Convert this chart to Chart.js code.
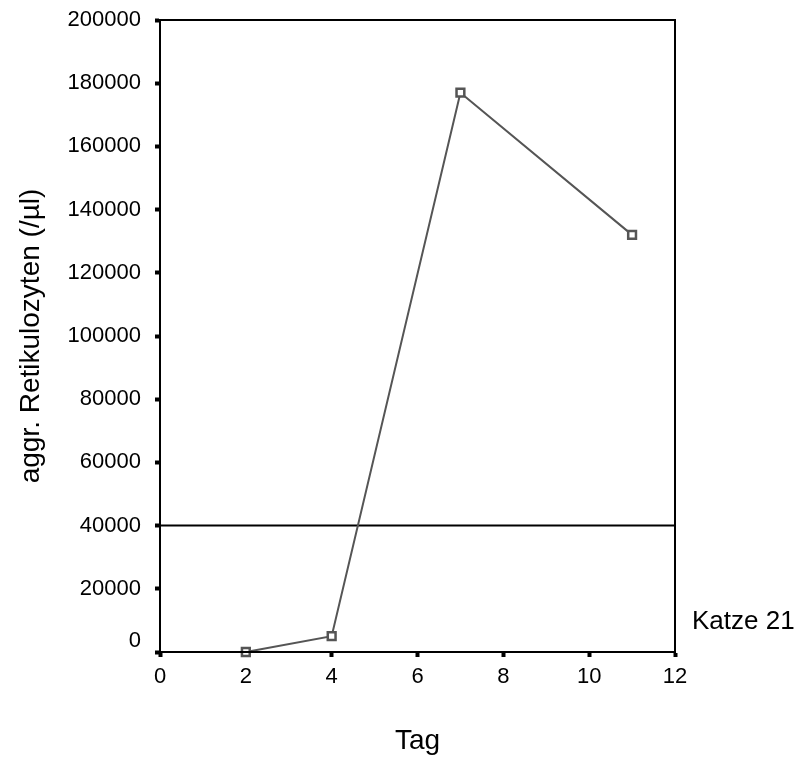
<!DOCTYPE html>
<html>
<head>
<meta charset="utf-8">
<script src="https://cdn.jsdelivr.net/npm/chart.js@4"></script>
<style>
  html, body { margin: 0; padding: 0; background: #fff; }
  canvas { display: block; }
</style>
</head>
<body>
<canvas id="retiChart" width="799" height="758"></canvas>
<script>
// aggregierte Retikulozyten, Katze 21
const days = [2, 4, 7, 11];
const reticulocytes = [0, 5000, 177000, 132000];
const threshold = 40000;
const xTicks = [0, 2, 4, 6, 8, 10, 12];
const yTicks = [0, 20000, 40000, 60000, 80000, 100000, 120000, 140000, 160000, 180000, 200000];
const seriesLabel = 'Katze 21';

const FONT = '"Liberation Sans", Arial, Helvetica, sans-serif';

// frame, the offset "0" label and the series name
const framePlugin = {
  id: 'frame',
  afterDraw(chart) {
    const { ctx, chartArea: a, scales } = chart;
    ctx.save();
    ctx.strokeStyle = '#000';
    ctx.lineWidth = 2;
    ctx.strokeRect(a.left, a.top, a.right - a.left, a.bottom - a.top);

    ctx.fillStyle = '#000';
    ctx.font = '22px ' + FONT;
    ctx.textAlign = 'right';
    ctx.textBaseline = 'middle';
    ctx.fillText('0', a.left - 19, scales.y.getPixelForValue(0) - 11);

    ctx.font = '26px ' + FONT;
    ctx.textAlign = 'left';
    ctx.fillText(seriesLabel, a.right + 17, scales.y.getPixelForValue(9500));
    ctx.restore();
  }
};

new Chart(document.getElementById('retiChart').getContext('2d'), {
  type: 'line',
  data: {
    datasets: [{
      label: seriesLabel,
      data: days.map((d, i) => ({ x: d, y: reticulocytes[i] })),
      borderColor: '#555',
      borderWidth: 2,
      pointStyle: 'rect',
      pointRadius: 5.5,
      pointBorderWidth: 2.5,
      pointBorderColor: '#555',
      pointBackgroundColor: '#fff',
      clip: false
    }, {
      label: 'Grenzwert',
      data: [{ x: xTicks[0], y: threshold }, { x: xTicks[xTicks.length - 1], y: threshold }],
      borderColor: '#000',
      borderWidth: 2,
      pointRadius: 0
    }]
  },
  options: {
    responsive: false,
    animation: false,
    layout: {
      padding: { top: 20, right: 124, bottom: 0, left: 0 }
    },
    plugins: {
      legend: { display: false },
      tooltip: { enabled: false }
    },
    scales: {
      x: {
        type: 'linear',
        min: xTicks[0],
        max: xTicks[xTicks.length - 1],
        afterBuildTicks(scale) {
          scale.ticks = xTicks.map(v => ({ value: v }));
        },
        afterFit(scale) {
          scale.height = 106;
        },
        border: { display: true, color: '#000', width: 2 },
        grid: {
          drawOnChartArea: false,
          drawTicks: true,
          tickLength: 5,
          tickWidth: 4,
          color: '#000'
        },
        ticks: {
          color: '#000',
          padding: 7,
          maxRotation: 0,
          font: { family: FONT, size: 22 }
        },
        title: {
          display: true,
          text: 'Tag',
          color: '#000',
          padding: 0,
          font: { family: FONT, size: 28 }
        }
      },
      y: {
        type: 'linear',
        min: yTicks[0],
        max: yTicks[yTicks.length - 1],
        afterBuildTicks(scale) {
          scale.ticks = yTicks.map(v => ({ value: v }));
        },
        afterFit(scale) {
          scale.width = 160;
          scale.paddingTop = 0;
          scale.paddingBottom = 0;
        },
        border: { display: true, color: '#000', width: 2 },
        grid: {
          drawOnChartArea: false,
          drawTicks: true,
          tickLength: 5,
          tickWidth: 4,
          color: '#000'
        },
        ticks: {
          color: '#000',
          padding: 14,
          font: { family: FONT, size: 22 },
          callback: v => (v === 0 ? '' : String(v))
        },
        title: {
          display: true,
          text: 'aggr. Retikulozyten (/µl)',
          color: '#000',
          padding: 14,
          font: { family: FONT, size: 28 }
        }
      }
    }
  },
  plugins: [framePlugin]
});
</script>
</body>
</html>
